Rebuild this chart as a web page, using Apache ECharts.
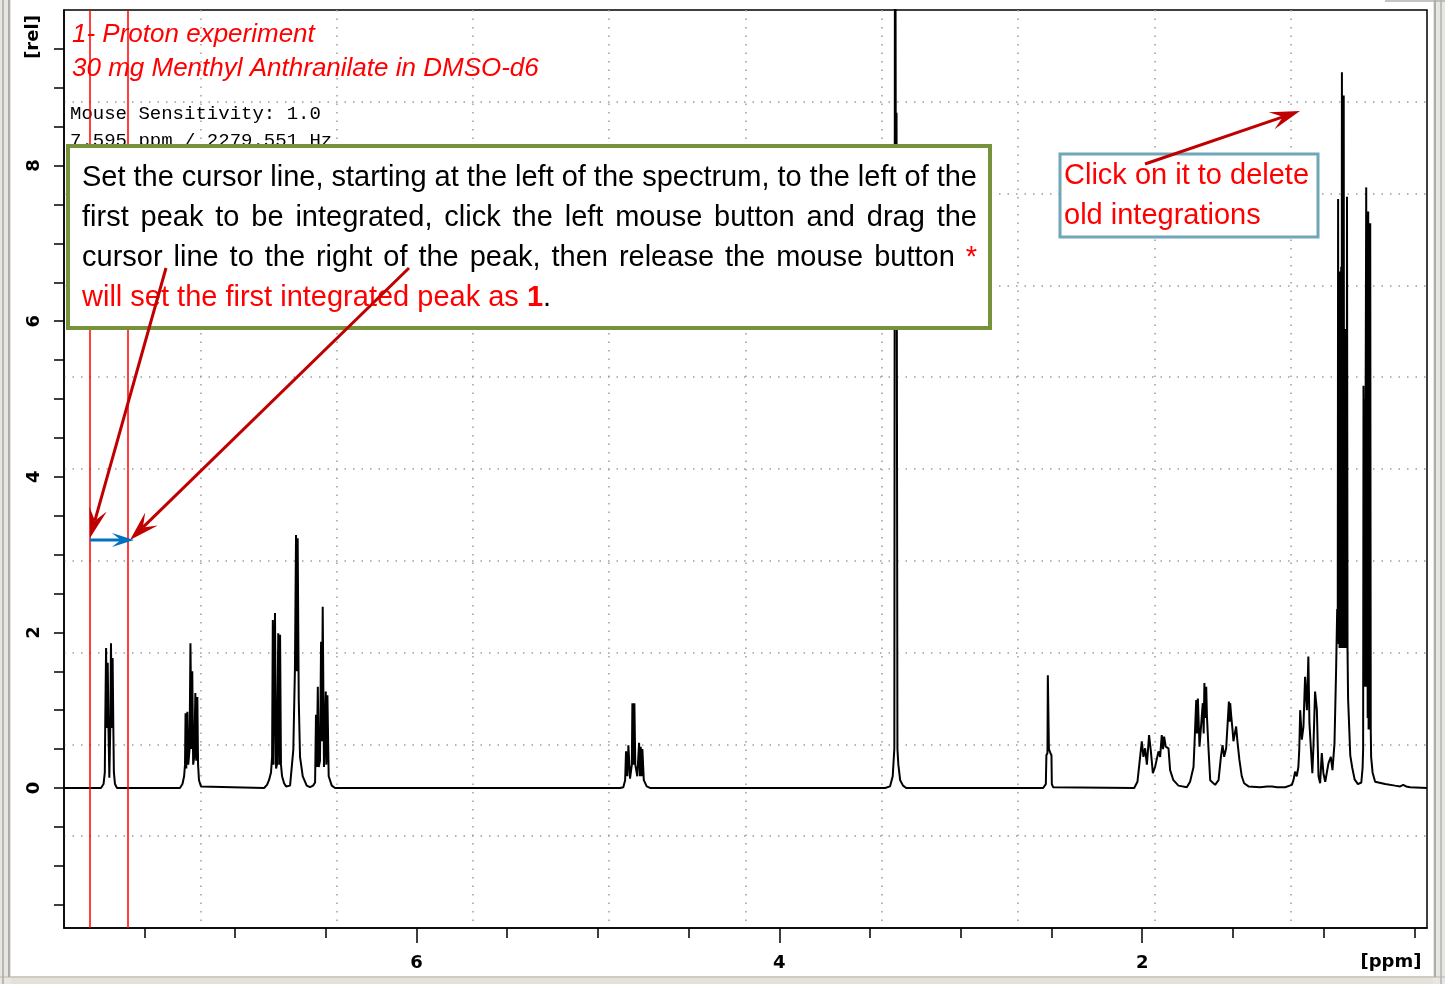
<!DOCTYPE html>
<html>
<head>
<meta charset="utf-8">
<title>1- Proton experiment</title>
<script src="https://cdn.jsdelivr.net/npm/echarts@6/dist/echarts.min.js"></script>
<style>
  html, body { margin: 0; padding: 0; background: #fff; }
  #chart { width: 1445px; height: 984px; }
</style>
</head>
<body>
<div id="chart"></div>
<script>
// ---- axes ----
const ppmRange = [0.43, 7.943];          // chemical shift window, drawn high -> low
const relRange = [-1.8, 10];             // relative intensity window
const ppmMajorTicks = [2, 4, 6];
const ppmMinorTicks = [0.5, 1, 1.5, 2, 2.5, 3, 3.5, 4, 4.5, 5, 5.5, 6, 6.5, 7, 7.5];
const relTicks = [-1.5, -1, -0.5, 0, 0.5, 1, 1.5, 2, 2.5, 3, 3.5, 4, 4.5, 5, 5.5, 6, 6.5, 7, 7.5, 8, 8.5, 9, 9.5];
const relLabels = [0, 2, 4, 6, 8];
const cursorPpm = [7.80, 7.595];          // integration cursor lines

// ---- spectrum, [ppm, rel] per multiplet ----
const aromatic77 = [[7.739,0],[7.725,0.05],[7.718,0.2],[7.716,0.77],[7.711,1.80],[7.707,0.77],[7.702,1.61],[7.698,0.77],
  [7.693,0.13],[7.688,0.77],[7.684,1.86],[7.679,0.77],[7.675,1.67],[7.671,0.77],[7.668,0.2],[7.662,0.05],[7.651,0]];
const aromatic72 = [[7.304,0],[7.290,0.05],[7.281,0.15],[7.276,0.3],[7.273,0.96],[7.269,0.25],[7.263,0.98],[7.258,0.3],
  [7.251,0.5],[7.246,1.86],[7.240,0.5],[7.236,1.5],[7.231,0.3],[7.225,0.4],[7.219,1.22],[7.214,0.35],[7.208,1.17],
  [7.204,0.3],[7.199,0.1],[7.188,0.02],[7.177,0]];
const aromatic68 = [[6.840,0],[6.824,0.04],[6.813,0.1],[6.802,0.2],[6.796,0.4],[6.792,2.16],[6.788,0.3],[6.780,2.25],
  [6.774,0.25],[6.769,0.3],[6.762,1.99],[6.757,0.3],[6.752,1.97],[6.747,0.3],[6.741,0.15],[6.730,0.06],[6.719,0.02],[6.708,0.01]];
const amine66 = [[6.697,0.03],[6.679,0.49],[6.670,1.54],[6.664,3.25],[6.659,1.5],[6.655,3.21],[6.649,1.13],[6.642,0.4],
  [6.627,0.15],[6.605,0.03],[6.587,0.01]];
const aromatic65 = [[6.570,0.03],[6.559,0.07],[6.554,0.94],[6.550,0.27],[6.544,1.3],[6.539,0.27],[6.532,0.35],[6.526,1.88],
  [6.522,0.6],[6.517,2.33],[6.510,0.27],[6.500,1.24],[6.497,0.3],[6.491,1.19],[6.484,0.15],[6.467,0.03],[6.449,0]];
const methine48 = [[4.878,0],[4.860,0.01],[4.850,0.1],[4.845,0.47],[4.838,0.15],[4.832,0.55],[4.823,0.12],[4.813,0.3],
  [4.810,1.09],[4.805,0.3],[4.799,1.09],[4.794,0.3],[4.783,0.15],[4.773,0.58],[4.768,0.15],[4.764,0.53],[4.758,0.15],
  [4.755,0.50],[4.747,0.1],[4.731,0.02],[4.713,0]];
const water33 = [[3.417,0],[3.390,0.02],[3.375,0.15],[3.366,0.51],[3.362,14],[3.358,8.0],[3.354,8.68],[3.349,0.5],
  [3.344,0.3],[3.334,0.1],[3.318,0.03],[3.301,0]];
const dmso25 = [[2.546,0],[2.531,0.05],[2.528,0.42],[2.522,0.45],[2.520,1.45],[2.516,1.45],[2.514,0.5],[2.506,0.45],
  [2.500,0.42],[2.498,0.05],[2.491,0.01],[2.480,0]];
const aliphatic20 = [[2.044,0],[2.026,0.08],[2.015,0.32],[2.002,0.60],[1.993,0.40],[1.984,0.51],[1.974,0.30],[1.962,0.68],
  [1.952,0.47],[1.941,0.19],[1.929,0.27],[1.910,0.47],[1.901,0.40],[1.892,0.68],[1.885,0.5],[1.879,0.66],[1.870,0.53],
  [1.855,0.51],[1.846,0.23],[1.837,0.21],[1.828,0.10],[1.800,0.03],[1.754,0.01]];
const aliphatic17 = [[1.736,0.08],[1.717,0.27],[1.711,0.6],[1.702,1.13],[1.698,0.7],[1.693,1.15],[1.684,0.53],[1.675,0.51],
  [1.666,1.09],[1.661,0.7],[1.657,1.35],[1.652,0.9],[1.647,1.30],[1.643,0.92],[1.635,0.53],[1.625,0.10],[1.598,0.04]];
const aliphatic15 = [[1.579,0.10],[1.566,0.40],[1.557,0.55],[1.548,0.40],[1.537,0.51],[1.530,0.79],[1.522,1.11],[1.518,0.85],
  [1.515,1.09],[1.509,0.92],[1.502,0.75],[1.497,0.60],[1.489,0.62],[1.482,0.79],[1.475,0.60],[1.464,0.36],[1.451,0.15],
  [1.438,0.06],[1.414,0.02],[1.350,0.01],[1.311,0.02],[1.284,0.02],[1.256,0.01],[1.212,0.01]];
const aliphatic11 = [[1.175,0.04],[1.166,0.10],[1.157,0.21],[1.148,0.15],[1.139,0.27],[1.134,0.5],[1.129,1.00],[1.120,0.62],
  [1.111,0.79],[1.102,1.43],[1.092,1.00],[1.084,1.69],[1.078,0.83],[1.070,0.51],[1.062,0.19],[1.056,0.53],[1.047,1.24],
  [1.037,1.00],[1.028,0.15],[1.019,0.06],[1.010,0.45],[1.001,0.19],[0.991,0.08],[0.973,0.32],[0.960,0.40],[0.951,0.23],
  [0.940,0.57],[0.931,1.52],[0.925,2.3],[0.922,1.9]];
const methyl09 = [[0.920,7.57],[0.917,1.85],[0.914,6.6],[0.912,1.8],[0.909,6.64],[0.906,1.8],[0.903,6.7],[0.901,1.8],
  [0.899,9.2],[0.897,1.8],[0.894,6.6],[0.892,1.8],[0.889,8.9],[0.887,1.8],[0.885,5.9],[0.882,1.8],[0.880,5.9],[0.877,1.8],
  [0.875,5.85],[0.873,1.8],[0.871,7.6],[0.868,1.76],[0.865,1.15],[0.860,0.85],[0.853,0.42],[0.842,0.26],[0.829,0.11],
  [0.811,0.05],[0.792,0.07],[0.785,0.26]];
const methyl07 = [[0.782,0.5],[0.780,5.17],[0.777,1.3],[0.774,5.0],[0.772,1.3],[0.768,5.2],[0.765,7.72],[0.763,1.3],
  [0.760,5.3],[0.757,0.9],[0.754,7.41],[0.752,0.75],[0.749,5.0],[0.746,0.75],[0.743,7.26],[0.740,0.75],[0.738,0.4],
  [0.730,0.2],[0.716,0.08],[0.661,0.05],[0.606,0.03],[0.578,0.02],[0.561,0.04],[0.545,0.02],[0.523,0.01],[0.430,0]];

const spectrum = [[ppmRange[1], 0]].concat(
  aromatic77, aromatic72, aromatic68, amine66, aromatic65, methine48,
  water33, dmso25, aliphatic20, aliphatic17, aliphatic15, aliphatic11, methyl09, methyl07
);

// ---- annotation text ----
const titleLines = ['1- Proton experiment', '30 mg Menthyl Anthranilate in DMSO-d6'];
const statusLines = ['Mouse Sensitivity: 1.0', '7.595 ppm / 2279.551 Hz'];
const noteLines = [
  { justify: true,  runs: [{ t: 'Set the cursor line, starting at the left of the spectrum, to the left of the', c: '#000' }] },
  { justify: true,  runs: [{ t: 'first peak to be integrated, click the left mouse button and drag the', c: '#000' }] },
  { justify: true,  runs: [{ t: 'cursor line to the right of the peak, then release the mouse button', c: '#000' }, { t: '*', c: '#ff0000' }] },
  { justify: false, runs: [{ t: 'will set the first integrated peak as ', c: '#ff0000' }, { t: '1', c: '#ff0000', b: true }, { t: '.', c: '#000' }] }
];
const deleteLines = ['Click on it to delete', 'old integrations'];

// ---- helpers for the overlay drawing ----
const NOTE_FONT = '"Liberation Sans", Arial, sans-serif';
const measureCtx = document.createElement('canvas').getContext('2d');
function textWidth(s, bold) {
  measureCtx.font = (bold ? 'bold ' : '') + '29px ' + NOTE_FONT;
  return measureCtx.measureText(s).width;
}
function noteText(x, y, s, color, bold) {
  return {
    type: 'text', x: x, y: y, z: 40,
    style: { text: s, fill: color, font: (bold ? 'bold ' : '') + '29px ' + NOTE_FONT, align: 'left', verticalAlign: 'middle' }
  };
}
// Lay out one note line; justified lines spread their words across the box width
function layoutLine(line, x0, width, y) {
  const out = [];
  if (line.justify) {
    const words = [];
    line.runs.forEach(r => r.t.split(' ').filter(w => w.length).forEach(w => words.push({ t: w, c: r.c, b: r.b })));
    const widths = words.map(w => textWidth(w.t, w.b));
    const total = widths.reduce((a, b) => a + b, 0);
    const gap = (width - total) / (words.length - 1);
    let x = x0;
    words.forEach((w, i) => { out.push(noteText(x, y, w.t, w.c, w.b)); x += widths[i] + gap; });
  } else {
    let x = x0;
    line.runs.forEach(r => { out.push(noteText(x, y, r.t, r.c, r.b)); x += textWidth(r.t, r.b); });
  }
  return out;
}
// Straight arrow with a swept-back head, from (x1,y1) to the tip (x2,y2)
function arrow(x1, y1, x2, y2, color, headLen, headHalf) {
  const dx = x2 - x1, dy = y2 - y1, L = Math.hypot(dx, dy);
  const ux = dx / L, uy = dy / L, nx = -uy, ny = ux;
  const bx = x2 - ux * headLen, by = y2 - uy * headLen;
  const mx = x2 - ux * headLen * 0.6, my = y2 - uy * headLen * 0.6;
  return [
    { type: 'line', z: 60, shape: { x1: x1, y1: y1, x2: mx, y2: my }, style: { stroke: color, lineWidth: 3 } },
    { type: 'polygon', z: 61, shape: { points: [[x2, y2], [bx + nx * headHalf, by + ny * headHalf], [mx, my], [bx - nx * headHalf, by - ny * headHalf]] },
      style: { fill: color } }
  ];
}

const graphics = [];
// window frame
graphics.push(
  { type: 'rect', z: 0, shape: { x: 0, y: 976, width: 1445, height: 8 }, style: { fill: '#e4e1d8' } },
  { type: 'line', z: 1, shape: { x1: 0, y1: 977, x2: 1445, y2: 977 }, style: { stroke: '#b8b5ae', lineWidth: 1 } },
  { type: 'rect', z: 0, shape: { x: 0, y: 0, width: 11, height: 984 }, style: { fill: '#e8e6e0' } },
  { type: 'line', z: 1, shape: { x1: 3, y1: 0, x2: 3, y2: 984 }, style: { stroke: '#a8a8a8', lineWidth: 1.5 } },
  { type: 'line', z: 1, shape: { x1: 9, y1: 0, x2: 9, y2: 977 }, style: { stroke: '#9a9a9a', lineWidth: 1.5 } },
  { type: 'rect', z: 0, shape: { x: 1433, y: 0, width: 12, height: 984 }, style: { fill: '#e8e6e0' } },
  { type: 'line', z: 1, shape: { x1: 1435, y1: 0, x2: 1435, y2: 977 }, style: { stroke: '#9a9a9a', lineWidth: 1.5 } },
  { type: 'line', z: 1, shape: { x1: 1441, y1: 0, x2: 1441, y2: 984 }, style: { stroke: '#b0b0b0', lineWidth: 1.5 } },
  { type: 'line', z: 1, shape: { x1: 1385, y1: 1, x2: 1445, y2: 1 }, style: { stroke: '#b0b0b0', lineWidth: 1.5 } }
);
// axis names
graphics.push(
  { type: 'text', x: 33, y: 37, rotation: Math.PI / 2, z: 5,
    style: { text: '[rel]', fill: '#000', font: 'bold 18px "DejaVu Sans"', align: 'center', verticalAlign: 'middle' } },
  { type: 'text', x: 1391, y: 962, z: 5,
    style: { text: '[ppm]', fill: '#000', font: 'bold 18px "DejaVu Sans"', align: 'center', verticalAlign: 'middle' } }
);
// experiment title and status read-out
titleLines.forEach((s, i) => graphics.push({ type: 'text', x: 72, y: 35 + i * 34, z: 1,
  style: { text: s, fill: '#ff0000', font: 'italic 26px ' + NOTE_FONT, align: 'left', verticalAlign: 'middle' } }));
statusLines.forEach((s, i) => graphics.push({ type: 'text', x: 70, y: 114 + i * 27, z: 1,
  style: { text: s, fill: '#000', font: '19px "Liberation Mono", monospace', align: 'left', verticalAlign: 'middle' } }));
// instruction box
graphics.push({ type: 'rect', z: 30, shape: { x: 68, y: 146, width: 922, height: 182 },
  style: { fill: '#fff', stroke: '#76923c', lineWidth: 4 } });
noteLines.forEach((ln, i) => layoutLine(ln, 82, 895, 178 + i * 40).forEach(g => graphics.push(g)));
// delete-integrations box
graphics.push({ type: 'rect', z: 30, shape: { x: 1060, y: 154, width: 258, height: 83 },
  style: { fill: '#fff', stroke: '#6fa6b8', lineWidth: 3 } });
deleteLines.forEach((s, i) => graphics.push(noteText(1064, 176 + i * 40, s, '#ff0000', false)));
// arrows
arrow(166, 268, 90, 538, '#c00000', 30, 9).forEach(g => graphics.push(g));
arrow(409, 268, 130, 540, '#c00000', 30, 9).forEach(g => graphics.push(g));
arrow(90, 540, 134, 540, '#0070c0', 22, 7).forEach(g => graphics.push(g));
arrow(1145, 164, 1300, 111, '#c00000', 30, 9).forEach(g => graphics.push(g));

const gridDots = { show: true, lineStyle: { color: '#9c9c9c', width: 1.5, type: [1.5, 7] }, showMinLine: false, showMaxLine: false };

const chart = echarts.init(document.getElementById('chart'), null, { renderer: 'canvas' });
chart.setOption({
  animation: false,
  backgroundColor: '#fff',
  grid: { left: 64, right: 18, top: 10, bottom: 56, show: true, borderColor: '#000', borderWidth: 1.5, backgroundColor: 'transparent' },
  xAxis: [
    { type: 'value', min: ppmRange[0], max: ppmRange[1], inverse: true, position: 'bottom',
      axisLine: { show: true, onZero: false, lineStyle: { color: '#000', width: 1.5 } },
      axisTick: { show: true, customValues: ppmMinorTicks, length: 10, lineStyle: { color: '#000', width: 1.5 } },
      axisLabel: { show: false }, splitLine: { show: false } },
    { type: 'value', min: ppmRange[0], max: ppmRange[1], inverse: true, position: 'bottom',
      axisLine: { show: false, onZero: false },
      axisTick: { show: true, customValues: ppmMajorTicks, length: 15, lineStyle: { color: '#000', width: 1.5 } },
      axisLabel: { show: true, customValues: ppmMajorTicks, margin: 26, color: '#000', fontSize: 18, fontWeight: 'bold', fontFamily: 'DejaVu Sans' },
      splitLine: { show: false } },
    { type: 'value', min: 0, max: 10, interval: 1, position: 'top',
      axisLine: { show: false, onZero: false }, axisTick: { show: false }, axisLabel: { show: false }, splitLine: gridDots }
  ],
  yAxis: [
    { type: 'value', min: relRange[0], max: relRange[1], position: 'left',
      axisLine: { show: true, onZero: false, lineStyle: { color: '#000', width: 1.5 } },
      axisTick: { show: true, customValues: relTicks, length: 10, lineStyle: { color: '#000', width: 1.5 } },
      axisLabel: { show: true, customValues: relLabels, rotate: 90, margin: 21, color: '#000', fontSize: 18, fontWeight: 'bold', fontFamily: 'DejaVu Sans' },
      splitLine: { show: false } },
    { type: 'value', min: 0, max: 10, interval: 1, position: 'right',
      axisLine: { show: false, onZero: false }, axisTick: { show: false }, axisLabel: { show: false }, splitLine: gridDots }
  ],
  series: [{
    type: 'line', xAxisIndex: 0, yAxisIndex: 0, data: spectrum,
    showSymbol: false, symbol: 'none', clip: true, z: 3,
    lineStyle: { color: '#000', width: 2 },
    markLine: {
      silent: true, symbol: 'none', label: { show: false },
      lineStyle: { color: '#ff0000', width: 1.5, type: 'solid' },
      data: cursorPpm.map(v => ({ xAxis: v }))
    }
  }],
  graphic: { elements: graphics }
});
</script>
</body>
</html>
